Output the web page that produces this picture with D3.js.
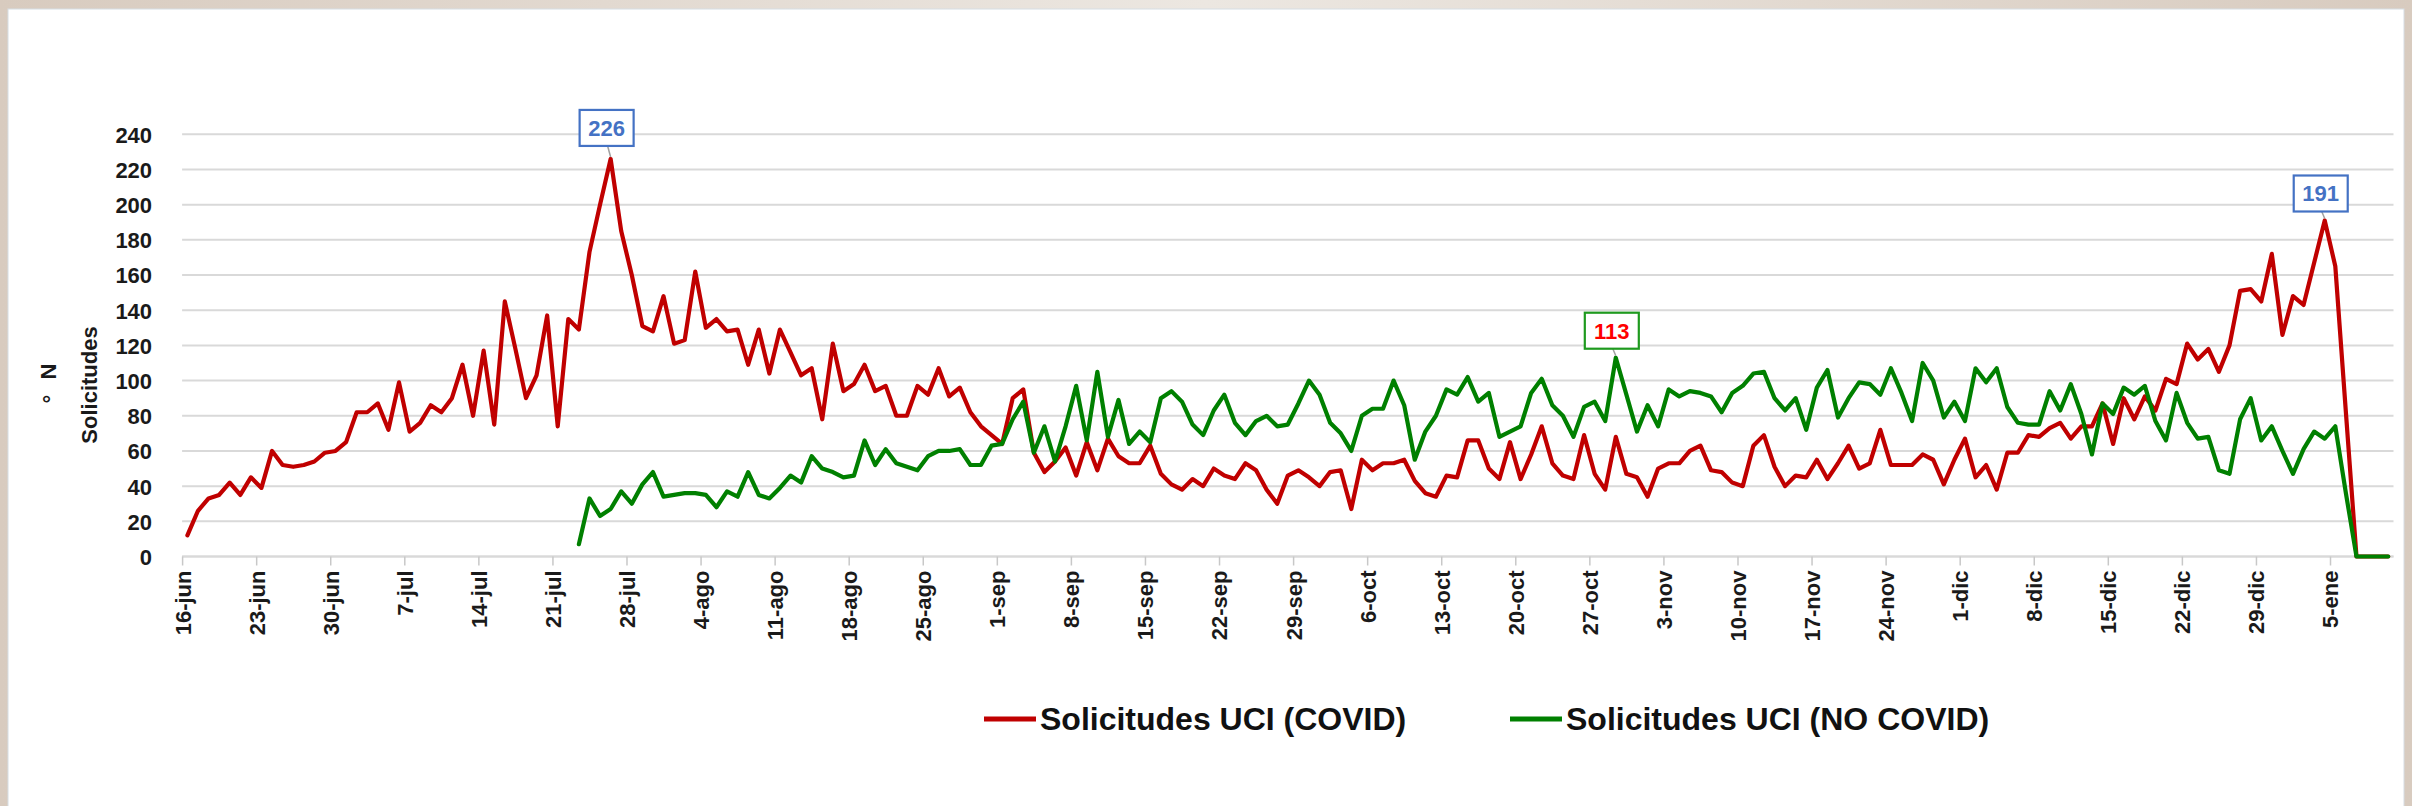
<!DOCTYPE html>
<html>
<head>
<meta charset="utf-8">
<script src="https://cdn.jsdelivr.net/npm/d3@7"></script>
<style>
  html, body { margin: 0; padding: 0; background: #ffffff; }
  svg { display: block; }
  text { font-family: "Liberation Sans", Arial, sans-serif; }
</style>
</head>
<body>
<svg id="chart" width="2412" height="806"></svg>
<script>
// ---------------- DATA ----------------
const firstDay = "2020-06-16";           // first category (day 0)
const noCovidFirstDay = "2020-07-23";    // first day of the NO COVID series

// Solicitudes UCI (COVID), one value per day from 16-jun-2020 to 10-ene-2021
const covid = [
  12,26,33,35,42,35,45,39,60,52,
  51,52,54,59,60,65,82,82,87,72,
  99,71,76,86,82,90,109,80,117,75,
  145,118,90,103,137,74,135,129,173,200,
  226,185,160,131,128,148,121,123,162,130,
  135,128,129,109,129,104,129,116,103,107,
  78,121,94,98,109,94,97,80,80,97,
  92,107,91,96,82,74,69,64,90,95,
  59,48,54,62,46,65,49,67,57,53,
  53,63,47,41,38,44,40,50,46,44,
  53,49,38,30,46,49,45,40,48,49,
  27,55,49,53,53,55,43,36,34,46,
  45,66,66,50,44,65,44,58,74,53,
  46,44,69,47,38,68,47,45,34,50,
  53,53,60,63,49,48,42,40,63,69,
  51,40,46,45,55,44,53,63,50,53,
  72,52,52,52,58,55,41,55,67,45,
  52,38,59,59,69,68,73,76,67,74,
  74,87,64,90,78,91,83,101,98,121,
  112,118,105,120,151,152,145,172,126,148,
  143,167,191,165,82,0,0,0,0
];

// Solicitudes UCI (NO COVID), one value per day from 23-jul-2020 to 10-ene-2021
const noCovid = [
  7,33,23,
  27,37,30,41,48,34,35,36,36,35,
  28,37,34,48,35,33,39,46,42,57,
  50,48,45,46,66,52,61,53,51,49,
  57,60,60,61,52,52,63,64,78,88,
  59,74,54,74,97,66,105,68,89,64,
  71,65,90,94,88,75,69,83,92,76,
  69,77,80,74,75,87,100,92,76,70,
  60,80,84,84,100,86,55,71,80,95,
  92,102,88,93,68,71,74,93,101,86,
  80,68,85,88,77,113,92,71,86,74,
  95,91,94,93,91,82,93,97,104,105,
  90,83,90,72,96,106,79,90,99,98,
  92,107,93,77,110,100,79,88,77,107,
  99,107,85,76,75,75,94,83,98,81,
  58,87,81,96,92,97,77,66,93,76,
  67,68,49,47,78,90,66,74,60,47,
  61,71,67,74,36,0,0,0,0
];

const xTickLabels = [
  "16-jun","23-jun","30-jun","7-jul","14-jul","21-jul","28-jul",
  "4-ago","11-ago","18-ago","25-ago","1-sep","8-sep","15-sep","22-sep","29-sep",
  "6-oct","13-oct","20-oct","27-oct","3-nov","10-nov","17-nov","24-nov",
  "1-dic","8-dic","15-dic","22-dic","29-dic","5-ene"
];
const yTicks = [0,20,40,60,80,100,120,140,160,180,200,220,240];

const seriesNames = ["Solicitudes UCI (COVID)", "Solicitudes UCI (NO COVID)"];
const seriesColors = ["#c00000", "#008000"];

// annotated points
const annotations = [
  {series: 0, date: "2020-07-26", label: "226", text: "#4472c4", border: "#4472c4", gap: 13},
  {series: 1, date: "2020-10-29", label: "113", text: "#ff0000", border: "#1f9a1f", gap: 9},
  {series: 0, date: "2021-01-04", label: "191", text: "#4472c4", border: "#4472c4", gap: 9}
];

// ---------------- BUILD ----------------
const parse = d3.utcParse("%Y-%m-%d");
const day0 = parse(firstDay);
const covidData = covid.map((v, i) => ({date: d3.utcDay.offset(day0, i), value: v}));
const ncStart = parse(noCovidFirstDay);
const noCovidData = noCovid.map((v, i) => ({date: d3.utcDay.offset(ncStart, i), value: v}));
const lastDay = covidData[covidData.length - 1].date;

const svg = d3.select("#chart");

// frame / background
const defs = svg.append("defs");
const grad = defs.append("linearGradient").attr("id", "frameGrad").attr("x1", 0).attr("x2", 1).attr("y1", 0).attr("y2", 0);
grad.append("stop").attr("offset", "0%").attr("stop-color", "#d8cbbf");
grad.append("stop").attr("offset", "50%").attr("stop-color", "#ece7e1");
grad.append("stop").attr("offset", "100%").attr("stop-color", "#d8cbbf");
svg.append("rect").attr("x", 0).attr("y", 0).attr("width", 2412).attr("height", 806).attr("fill", "url(#frameGrad)");
svg.append("rect").attr("x", 8).attr("y", 9).attr("width", 2396).attr("height", 800)
  .attr("fill", "#ffffff").attr("stroke", "#d6dde4").attr("stroke-width", 1);

const plotLeft = 182.1, plotRight = 2393.5, plotTop = 134.3, plotBottom = 556.5;

const x = d3.scaleUtc()
  .domain([day0, d3.utcDay.offset(lastDay, 1)])
  .range([plotLeft, plotRight]);
const xc = d => x(d3.utcHour.offset(d, 12));   // centre of the day slot
const y = d3.scaleLinear().domain([0, 240]).range([plotBottom, plotTop]);

// gridlines
svg.append("g").selectAll("line").data(yTicks).join("line")
  .attr("x1", plotLeft).attr("x2", plotRight)
  .attr("y1", d => y(d)).attr("y2", d => y(d))
  .attr("stroke", "#d9d9d9").attr("stroke-width", 2);

// y axis labels
const yAxis = d3.axisLeft(y).tickValues(yTicks).tickSize(0).tickPadding(0);
const gy = svg.append("g").attr("transform", `translate(${plotLeft - 30},0)`).call(yAxis);
gy.select(".domain").remove();
gy.selectAll("text").attr("font-size", 22).attr("font-weight", "bold").attr("fill", "#1a1a1a")
  .attr("font-family", "Liberation Sans, Arial, sans-serif").attr("dy", "0.36em");

// x axis ticks and labels
const tickDates = xTickLabels.map((l, k) => d3.utcDay.offset(day0, 7 * k));
const xAxis = d3.axisBottom(x).tickValues(tickDates).tickSize(9)
  .tickFormat((d, k) => xTickLabels[k]);
const gx = svg.append("g").attr("transform", `translate(0,${plotBottom})`).call(xAxis);
gx.select(".domain").attr("stroke", "#d9d9d9").attr("stroke-width", 2)
  .attr("d", `M${plotLeft},0H${plotRight}`);
gx.selectAll(".tick line").attr("stroke", "#c8c8c8").attr("stroke-width", 1.5);
gx.selectAll(".tick text")
  .attr("font-size", 22).attr("font-weight", "bold").attr("fill", "#1a1a1a")
  .attr("font-family", "Liberation Sans, Arial, sans-serif")
  .attr("text-anchor", "end")
  .attr("transform", "translate(0,14) rotate(-90)")
  .attr("x", 0).attr("y", 0).attr("dy", "0.36em");

// axis titles ("N" above a separate degree sign, then "Solicitudes")
svg.append("text").attr("transform", "translate(48,371.5) rotate(-90)")
  .attr("text-anchor", "middle").attr("dy", "0.36em")
  .attr("font-size", 22).attr("font-weight", "bold").attr("fill", "#1a1a1a").text("N");
svg.append("text").attr("transform", "translate(51,399) rotate(-90)")
  .attr("text-anchor", "middle").attr("dy", "0.36em")
  .attr("font-size", 22).attr("font-weight", "bold").attr("fill", "#1a1a1a").text("°");
svg.append("text").attr("transform", "translate(89,385) rotate(-90)")
  .attr("text-anchor", "middle").attr("dy", "0.36em")
  .attr("font-size", 22).attr("font-weight", "bold").attr("fill", "#1a1a1a").text("Solicitudes");

// lines
const line = d3.line().x(d => xc(d.date)).y(d => y(d.value));
const allSeries = [covidData, noCovidData];
allSeries.forEach((data, s) => {
  svg.append("path").datum(data)
    .attr("fill", "none").attr("stroke", seriesColors[s]).attr("stroke-width", 4.2)
    .attr("stroke-linejoin", "round").attr("stroke-linecap", "round")
    .attr("d", line);
});

// annotations
annotations.forEach(a => {
  const dt = parse(a.date);
  const data = allSeries[a.series];
  const pt = data.find(d => +d.date === +dt);
  const px = xc(pt.date), py = y(pt.value);
  const bw = 54, bh = 36;
  const bx = px - 4 - bw / 2, by = py - a.gap - bh;
  svg.append("line").attr("x1", px - 3).attr("y1", by + bh).attr("x2", px).attr("y2", py - 2)
    .attr("stroke", "#a0a0a0").attr("stroke-width", 1.5);
  svg.append("rect").attr("x", bx).attr("y", by).attr("width", bw).attr("height", bh)
    .attr("fill", "#ffffff").attr("stroke", a.border).attr("stroke-width", 2.2);
  svg.append("text").attr("x", bx + bw / 2).attr("y", by + bh / 2).attr("dy", "0.36em")
    .attr("text-anchor", "middle").attr("font-size", 22).attr("font-weight", "bold")
    .attr("fill", a.text).text(a.label);
});

// legend
const legendItems = [
  {name: seriesNames[0], color: seriesColors[0], x0: 984},
  {name: seriesNames[1], color: seriesColors[1], x0: 1510}
];
const lg = svg.append("g");
legendItems.forEach(it => {
  lg.append("line").attr("x1", it.x0).attr("x2", it.x0 + 52).attr("y1", 719).attr("y2", 719)
    .attr("stroke", it.color).attr("stroke-width", 5);
  lg.append("text").attr("x", it.x0 + 56).attr("y", 730)
    .attr("font-size", 32).attr("font-weight", "bold").attr("fill", "#111111").text(it.name);
});
</script>
</body>
</html>
